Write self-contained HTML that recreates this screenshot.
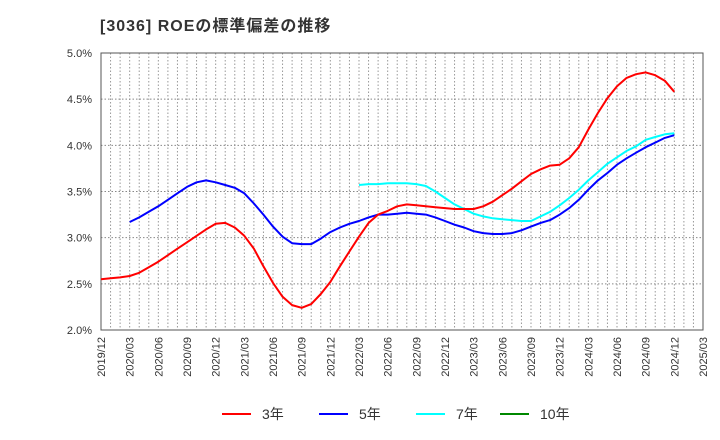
<!DOCTYPE html>
<html><head><meta charset="utf-8"><style>
body{margin:0;background:#fff;}
svg{display:block;font-family:"Liberation Sans","Noto Sans CJK JP",sans-serif;}
</style></head><body>
<svg id="chart" width="720" height="440">
<text x="100" y="31" font-size="16" font-weight="bold" letter-spacing="1" fill="#333">[3036]  ROEの標準偏差の推移</text>
<g id="grid"></g><g id="axes"></g><g id="series"></g>
<g>
<g><line x1="222" y1="414" x2="251" y2="414" stroke="#f00" stroke-width="2"/><text x="262" y="419" font-size="14" fill="#333">3年</text></g>
<g><line x1="319" y1="414" x2="348" y2="414" stroke="#00f" stroke-width="2"/><text x="359" y="419" font-size="14" fill="#333">5年</text></g>
<g><line x1="416" y1="414" x2="445" y2="414" stroke="#0ff" stroke-width="2"/><text x="456" y="419" font-size="14" fill="#333">7年</text></g>
<g><line x1="500" y1="414" x2="529" y2="414" stroke="#080" stroke-width="2"/><text x="540" y="419" font-size="14" fill="#333">10年</text></g>
</g>
</svg>
<script>
const xTickLabels=["2019/12","2020/03","2020/06","2020/09","2020/12","2021/03","2021/06","2021/09","2021/12","2022/03","2022/06","2022/09","2022/12","2023/03","2023/06","2023/09","2023/12","2024/03","2024/06","2024/09","2024/12","2025/03"];
const yTickLabels=["2.0%","2.5%","3.0%","3.5%","4.0%","4.5%","5.0%"];
const yTickValues=[2.0,2.5,3.0,3.5,4.0,4.5,5.0];
const s3Start=0;
const s3=[2.55,2.56,2.57,2.585,2.62,2.68,2.74,2.81,2.88,2.95,3.02,3.09,3.15,3.16,3.11,3.02,2.88,2.69,2.51,2.36,2.27,2.24,2.28,2.39,2.52,2.69,2.85,3.01,3.16,3.25,3.29,3.34,3.36,3.35,3.34,3.33,3.32,3.31,3.31,3.31,3.34,3.39,3.46,3.53,3.61,3.69,3.74,3.78,3.79,3.86,3.98,4.17,4.35,4.51,4.64,4.73,4.77,4.79,4.76,4.70,4.58];
const s5Start=3;
const s5=[3.17,3.22,3.28,3.34,3.41,3.48,3.55,3.60,3.62,3.60,3.57,3.54,3.48,3.37,3.25,3.12,3.01,2.94,2.93,2.93,2.99,3.06,3.11,3.15,3.18,3.22,3.25,3.25,3.26,3.27,3.26,3.25,3.22,3.18,3.14,3.11,3.07,3.05,3.04,3.04,3.05,3.08,3.12,3.16,3.19,3.25,3.32,3.41,3.52,3.62,3.70,3.79,3.86,3.92,3.98,4.03,4.08,4.11];
const s7Start=27;
const s7=[3.57,3.58,3.58,3.59,3.59,3.59,3.58,3.56,3.50,3.43,3.36,3.31,3.26,3.23,3.21,3.20,3.19,3.18,3.18,3.23,3.28,3.35,3.43,3.52,3.62,3.71,3.80,3.87,3.94,3.99,4.06,4.09,4.12,4.13];
const s10=[];
const NS="http://www.w3.org/2000/svg";
const L=101,R=703,T=53,B=330,nMonths=63;
const xs=i=>L+(R-L)*i/nMonths;
const ys=v=>B-(v-2)*(B-T)/3;
function mk(tag,attrs,parent){const e=document.createElementNS(NS,tag);for(const k in attrs)e.setAttribute(k,attrs[k]);parent.appendChild(e);return e;}
const grid=document.getElementById('grid'),axes=document.getElementById('axes'),ser=document.getElementById('series');
for(let i=1;i<nMonths;i++){const l=mk('line',{x1:xs(i),x2:xs(i),y1:T,y2:B,stroke:'#999','stroke-dasharray':'1.5,2','stroke-width':1},grid);

}
yTickValues.forEach((v,k)=>{if(k>0&&k<yTickValues.length-1){const l=mk('line',{x1:L,x2:R,y1:ys(v),y2:ys(v),stroke:'#888','stroke-dasharray':'1.5,2','stroke-width':1},grid);

}
const t=mk('text',{x:92,y:ys(v)+4,'font-size':11,'text-anchor':'end',fill:'#333'},axes);t.textContent=yTickLabels[k];

});
xTickLabels.forEach((s,k)=>{const x=xs(k*3)+4;const t=mk('text',{x:x,y:337,'font-size':11,'text-anchor':'end',fill:'#333',transform:`rotate(-90 ${x} 337)`},axes);t.textContent=s;

});
const fr=mk('rect',{x:L,y:T,width:R-L,height:B-T,fill:'none',stroke:'#555','stroke-width':1},axes);


function line(arr,start,color,name){if(!arr.length)return;const p=arr.map((v,i)=>xs(start+i).toFixed(1)+','+ys(v).toFixed(1)).join(' ');
const pl=mk('polyline',{points:p,fill:'none',stroke:color,'stroke-width':2,'stroke-linejoin':'round'},ser);

}
line(s10,0,'#080','series-10y');
line(s7,s7Start,'#0ff','series-7y');
line(s5,s5Start,'#00f','series-5y');
line(s3,s3Start,'#f00','series-3y');
</script>
</body></html>
